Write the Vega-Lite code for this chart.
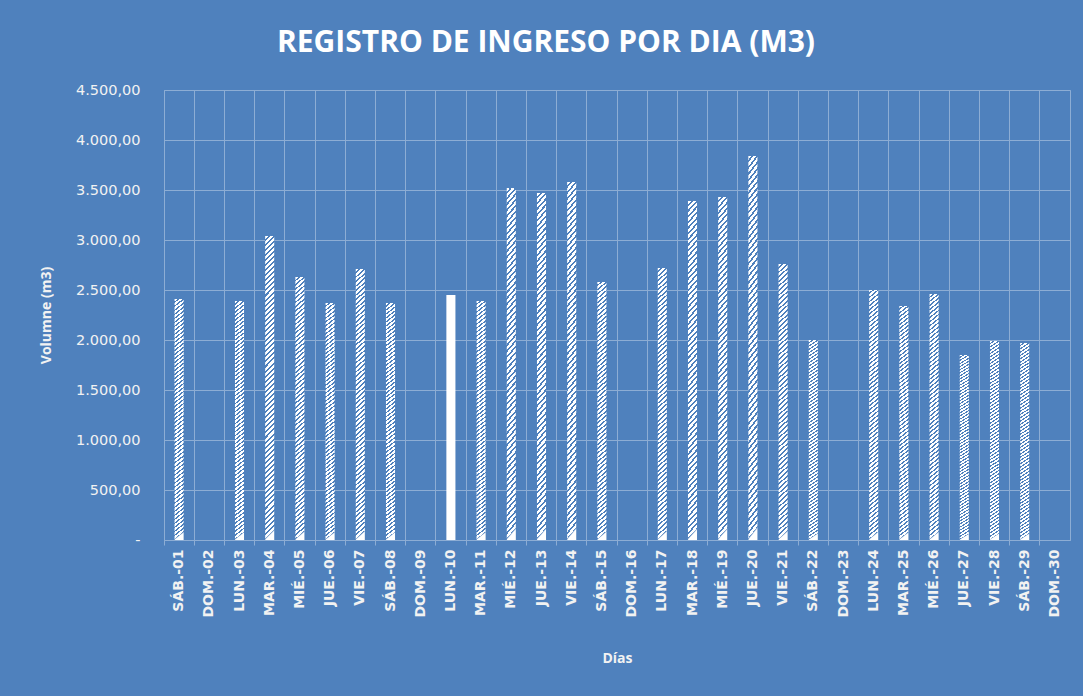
{
  "$schema": "https://vega.github.io/schema/vega-lite/v6.json",
  "autosize": {"type": "none"},
  "padding": {"left": 164, "top": 90, "right": 13, "bottom": 156},
  "width": 906,
  "height": 450,
  "background": "#4F81BD",
  "config": {
    "view": {"stroke": "#8DADD4", "strokeWidth": 1},
    "font": "Open Sans"
  },
  "title": {
    "text": "REGISTRO DE INGRESO POR DIA (M3)",
    "font": "Open Sans",
    "fontSize": 30,
    "fontWeight": "bold",
    "color": "#FFFFFF",
    "anchor": "middle",
    "frame": "group",
    "dx": -71,
    "offset": 24
  },
  "data": {
    "values": [
      {"dia": "SÁB.-01", "volumen": 2410},
      {"dia": "DOM.-02", "volumen": 0},
      {"dia": "LUN.-03", "volumen": 2390},
      {"dia": "MAR.-04", "volumen": 3040},
      {"dia": "MIÉ.-05", "volumen": 2630},
      {"dia": "JUE.-06", "volumen": 2370},
      {"dia": "VIE.-07", "volumen": 2710},
      {"dia": "SÁB.-08", "volumen": 2370},
      {"dia": "DOM.-09", "volumen": 0},
      {"dia": "LUN.-10", "volumen": 2450},
      {"dia": "MAR.-11", "volumen": 2390},
      {"dia": "MIÉ.-12", "volumen": 3520},
      {"dia": "JUE.-13", "volumen": 3470},
      {"dia": "VIE.-14", "volumen": 3580},
      {"dia": "SÁB.-15", "volumen": 2580},
      {"dia": "DOM.-16", "volumen": 0},
      {"dia": "LUN.-17", "volumen": 2720},
      {"dia": "MAR.-18", "volumen": 3390},
      {"dia": "MIÉ.-19", "volumen": 3430},
      {"dia": "JUE.-20", "volumen": 3840},
      {"dia": "VIE.-21", "volumen": 2760},
      {"dia": "SÁB.-22", "volumen": 2000},
      {"dia": "DOM.-23", "volumen": 0},
      {"dia": "LUN.-24", "volumen": 2500},
      {"dia": "MAR.-25", "volumen": 2340},
      {"dia": "MIÉ.-26", "volumen": 2460},
      {"dia": "JUE.-27", "volumen": 1850},
      {"dia": "VIE.-28", "volumen": 1990},
      {"dia": "SÁB.-29", "volumen": 1970},
      {"dia": "DOM.-30", "volumen": 0}
    ]
  },
  "mark": {
    "type": "bar",
    "width": {"band": 0.3}
  },
  "encoding": {
    "x": {
      "field": "dia",
      "type": "nominal",
      "sort": null,
      "scale": {"paddingInner": 0, "paddingOuter": 0},
      "axis": {
        "title": "Días",
        "titleFont": "Open Sans",
        "titleFontSize": 14,
        "titleFontWeight": "bold",
        "titleColor": "#F2F2F2",
        "titlePadding": 34,
        "bandPosition": 0,
        "grid": true,
        "gridColor": "#8DADD4",
        "gridOpacity": 1,
        "ticks": true,
        "tickSize": 5,
        "tickColor": "#8DADD4",
        "domainColor": "#8DADD4",
        "labelAngle": 270,
        "labelAlign": "right",
        "labelBaseline": "middle",
        "labelFont": "DejaVu Sans",
        "labelFontSize": 14,
        "labelFontWeight": "bold",
        "labelColor": "#F2F2F2",
        "labelPadding": 4
      }
    },
    "y": {
      "field": "volumen",
      "type": "quantitative",
      "scale": {"domain": [0, 4500], "nice": false},
      "axis": {
        "title": "Volumne (m3)",
        "titleFont": "Open Sans",
        "titleFontSize": 14,
        "titleFontWeight": "bold",
        "titleColor": "#F2F2F2",
        "titlePadding": 22,
        "values": [0, 500, 1000, 1500, 2000, 2500, 3000, 3500, 4000, 4500],
        "labelExpr": "datum.value == 0 ? '-' : replace(replace(replace(format(datum.value, ',.2f'), ',', '_'), '.', ','), '_', '.')",
        "grid": true,
        "gridColor": "#8DADD4",
        "gridOpacity": 1,
        "domain": false,
        "ticks": false,
        "labelFont": "DejaVu Sans",
        "labelFontSize": 14.5,
        "labelColor": "#F2F2F2",
        "labelPadding": 24
      }
    },
    "fill": {
      "condition": {"test": "datum.dia === 'LUN.-10'", "value": "#FFFFFF"},
      "value": {
        "gradient": "linear",
        "x1": 0, "y1": 0, "x2": 0.03, "y2": 1,
        "stops": [
          {"offset": 0, "color": "#FFFFFF"}, {"offset": 0.01, "color": "#FFFFFF"}, {"offset": 0.01, "color": "#4F81BD"}, {"offset": 0.01667, "color": "#4F81BD"},
          {"offset": 0.01667, "color": "#FFFFFF"}, {"offset": 0.02667, "color": "#FFFFFF"}, {"offset": 0.02667, "color": "#4F81BD"}, {"offset": 0.03333, "color": "#4F81BD"},
          {"offset": 0.03333, "color": "#FFFFFF"}, {"offset": 0.04333, "color": "#FFFFFF"}, {"offset": 0.04333, "color": "#4F81BD"}, {"offset": 0.05, "color": "#4F81BD"},
          {"offset": 0.05, "color": "#FFFFFF"}, {"offset": 0.06, "color": "#FFFFFF"}, {"offset": 0.06, "color": "#4F81BD"}, {"offset": 0.06667, "color": "#4F81BD"},
          {"offset": 0.06667, "color": "#FFFFFF"}, {"offset": 0.07667, "color": "#FFFFFF"}, {"offset": 0.07667, "color": "#4F81BD"}, {"offset": 0.08333, "color": "#4F81BD"},
          {"offset": 0.08333, "color": "#FFFFFF"}, {"offset": 0.09333, "color": "#FFFFFF"}, {"offset": 0.09333, "color": "#4F81BD"}, {"offset": 0.1, "color": "#4F81BD"},
          {"offset": 0.1, "color": "#FFFFFF"}, {"offset": 0.11, "color": "#FFFFFF"}, {"offset": 0.11, "color": "#4F81BD"}, {"offset": 0.11667, "color": "#4F81BD"},
          {"offset": 0.11667, "color": "#FFFFFF"}, {"offset": 0.12667, "color": "#FFFFFF"}, {"offset": 0.12667, "color": "#4F81BD"}, {"offset": 0.13333, "color": "#4F81BD"},
          {"offset": 0.13333, "color": "#FFFFFF"}, {"offset": 0.14333, "color": "#FFFFFF"}, {"offset": 0.14333, "color": "#4F81BD"}, {"offset": 0.15, "color": "#4F81BD"},
          {"offset": 0.15, "color": "#FFFFFF"}, {"offset": 0.16, "color": "#FFFFFF"}, {"offset": 0.16, "color": "#4F81BD"}, {"offset": 0.16667, "color": "#4F81BD"},
          {"offset": 0.16667, "color": "#FFFFFF"}, {"offset": 0.17667, "color": "#FFFFFF"}, {"offset": 0.17667, "color": "#4F81BD"}, {"offset": 0.18333, "color": "#4F81BD"},
          {"offset": 0.18333, "color": "#FFFFFF"}, {"offset": 0.19333, "color": "#FFFFFF"}, {"offset": 0.19333, "color": "#4F81BD"}, {"offset": 0.2, "color": "#4F81BD"},
          {"offset": 0.2, "color": "#FFFFFF"}, {"offset": 0.21, "color": "#FFFFFF"}, {"offset": 0.21, "color": "#4F81BD"}, {"offset": 0.21667, "color": "#4F81BD"},
          {"offset": 0.21667, "color": "#FFFFFF"}, {"offset": 0.22667, "color": "#FFFFFF"}, {"offset": 0.22667, "color": "#4F81BD"}, {"offset": 0.23333, "color": "#4F81BD"},
          {"offset": 0.23333, "color": "#FFFFFF"}, {"offset": 0.24333, "color": "#FFFFFF"}, {"offset": 0.24333, "color": "#4F81BD"}, {"offset": 0.25, "color": "#4F81BD"},
          {"offset": 0.25, "color": "#FFFFFF"}, {"offset": 0.26, "color": "#FFFFFF"}, {"offset": 0.26, "color": "#4F81BD"}, {"offset": 0.26667, "color": "#4F81BD"},
          {"offset": 0.26667, "color": "#FFFFFF"}, {"offset": 0.27667, "color": "#FFFFFF"}, {"offset": 0.27667, "color": "#4F81BD"}, {"offset": 0.28333, "color": "#4F81BD"},
          {"offset": 0.28333, "color": "#FFFFFF"}, {"offset": 0.29333, "color": "#FFFFFF"}, {"offset": 0.29333, "color": "#4F81BD"}, {"offset": 0.3, "color": "#4F81BD"},
          {"offset": 0.3, "color": "#FFFFFF"}, {"offset": 0.31, "color": "#FFFFFF"}, {"offset": 0.31, "color": "#4F81BD"}, {"offset": 0.31667, "color": "#4F81BD"},
          {"offset": 0.31667, "color": "#FFFFFF"}, {"offset": 0.32667, "color": "#FFFFFF"}, {"offset": 0.32667, "color": "#4F81BD"}, {"offset": 0.33333, "color": "#4F81BD"},
          {"offset": 0.33333, "color": "#FFFFFF"}, {"offset": 0.34333, "color": "#FFFFFF"}, {"offset": 0.34333, "color": "#4F81BD"}, {"offset": 0.35, "color": "#4F81BD"},
          {"offset": 0.35, "color": "#FFFFFF"}, {"offset": 0.36, "color": "#FFFFFF"}, {"offset": 0.36, "color": "#4F81BD"}, {"offset": 0.36667, "color": "#4F81BD"},
          {"offset": 0.36667, "color": "#FFFFFF"}, {"offset": 0.37667, "color": "#FFFFFF"}, {"offset": 0.37667, "color": "#4F81BD"}, {"offset": 0.38333, "color": "#4F81BD"},
          {"offset": 0.38333, "color": "#FFFFFF"}, {"offset": 0.39333, "color": "#FFFFFF"}, {"offset": 0.39333, "color": "#4F81BD"}, {"offset": 0.4, "color": "#4F81BD"},
          {"offset": 0.4, "color": "#FFFFFF"}, {"offset": 0.41, "color": "#FFFFFF"}, {"offset": 0.41, "color": "#4F81BD"}, {"offset": 0.41667, "color": "#4F81BD"},
          {"offset": 0.41667, "color": "#FFFFFF"}, {"offset": 0.42667, "color": "#FFFFFF"}, {"offset": 0.42667, "color": "#4F81BD"}, {"offset": 0.43333, "color": "#4F81BD"},
          {"offset": 0.43333, "color": "#FFFFFF"}, {"offset": 0.44333, "color": "#FFFFFF"}, {"offset": 0.44333, "color": "#4F81BD"}, {"offset": 0.45, "color": "#4F81BD"},
          {"offset": 0.45, "color": "#FFFFFF"}, {"offset": 0.46, "color": "#FFFFFF"}, {"offset": 0.46, "color": "#4F81BD"}, {"offset": 0.46667, "color": "#4F81BD"},
          {"offset": 0.46667, "color": "#FFFFFF"}, {"offset": 0.47667, "color": "#FFFFFF"}, {"offset": 0.47667, "color": "#4F81BD"}, {"offset": 0.48333, "color": "#4F81BD"},
          {"offset": 0.48333, "color": "#FFFFFF"}, {"offset": 0.49333, "color": "#FFFFFF"}, {"offset": 0.49333, "color": "#4F81BD"}, {"offset": 0.5, "color": "#4F81BD"},
          {"offset": 0.5, "color": "#FFFFFF"}, {"offset": 0.51, "color": "#FFFFFF"}, {"offset": 0.51, "color": "#4F81BD"}, {"offset": 0.51667, "color": "#4F81BD"},
          {"offset": 0.51667, "color": "#FFFFFF"}, {"offset": 0.52667, "color": "#FFFFFF"}, {"offset": 0.52667, "color": "#4F81BD"}, {"offset": 0.53333, "color": "#4F81BD"},
          {"offset": 0.53333, "color": "#FFFFFF"}, {"offset": 0.54333, "color": "#FFFFFF"}, {"offset": 0.54333, "color": "#4F81BD"}, {"offset": 0.55, "color": "#4F81BD"},
          {"offset": 0.55, "color": "#FFFFFF"}, {"offset": 0.56, "color": "#FFFFFF"}, {"offset": 0.56, "color": "#4F81BD"}, {"offset": 0.56667, "color": "#4F81BD"},
          {"offset": 0.56667, "color": "#FFFFFF"}, {"offset": 0.57667, "color": "#FFFFFF"}, {"offset": 0.57667, "color": "#4F81BD"}, {"offset": 0.58333, "color": "#4F81BD"},
          {"offset": 0.58333, "color": "#FFFFFF"}, {"offset": 0.59333, "color": "#FFFFFF"}, {"offset": 0.59333, "color": "#4F81BD"}, {"offset": 0.6, "color": "#4F81BD"},
          {"offset": 0.6, "color": "#FFFFFF"}, {"offset": 0.61, "color": "#FFFFFF"}, {"offset": 0.61, "color": "#4F81BD"}, {"offset": 0.61667, "color": "#4F81BD"},
          {"offset": 0.61667, "color": "#FFFFFF"}, {"offset": 0.62667, "color": "#FFFFFF"}, {"offset": 0.62667, "color": "#4F81BD"}, {"offset": 0.63333, "color": "#4F81BD"},
          {"offset": 0.63333, "color": "#FFFFFF"}, {"offset": 0.64333, "color": "#FFFFFF"}, {"offset": 0.64333, "color": "#4F81BD"}, {"offset": 0.65, "color": "#4F81BD"},
          {"offset": 0.65, "color": "#FFFFFF"}, {"offset": 0.66, "color": "#FFFFFF"}, {"offset": 0.66, "color": "#4F81BD"}, {"offset": 0.66667, "color": "#4F81BD"},
          {"offset": 0.66667, "color": "#FFFFFF"}, {"offset": 0.67667, "color": "#FFFFFF"}, {"offset": 0.67667, "color": "#4F81BD"}, {"offset": 0.68333, "color": "#4F81BD"},
          {"offset": 0.68333, "color": "#FFFFFF"}, {"offset": 0.69333, "color": "#FFFFFF"}, {"offset": 0.69333, "color": "#4F81BD"}, {"offset": 0.7, "color": "#4F81BD"},
          {"offset": 0.7, "color": "#FFFFFF"}, {"offset": 0.71, "color": "#FFFFFF"}, {"offset": 0.71, "color": "#4F81BD"}, {"offset": 0.71667, "color": "#4F81BD"},
          {"offset": 0.71667, "color": "#FFFFFF"}, {"offset": 0.72667, "color": "#FFFFFF"}, {"offset": 0.72667, "color": "#4F81BD"}, {"offset": 0.73333, "color": "#4F81BD"},
          {"offset": 0.73333, "color": "#FFFFFF"}, {"offset": 0.74333, "color": "#FFFFFF"}, {"offset": 0.74333, "color": "#4F81BD"}, {"offset": 0.75, "color": "#4F81BD"},
          {"offset": 0.75, "color": "#FFFFFF"}, {"offset": 0.76, "color": "#FFFFFF"}, {"offset": 0.76, "color": "#4F81BD"}, {"offset": 0.76667, "color": "#4F81BD"},
          {"offset": 0.76667, "color": "#FFFFFF"}, {"offset": 0.77667, "color": "#FFFFFF"}, {"offset": 0.77667, "color": "#4F81BD"}, {"offset": 0.78333, "color": "#4F81BD"},
          {"offset": 0.78333, "color": "#FFFFFF"}, {"offset": 0.79333, "color": "#FFFFFF"}, {"offset": 0.79333, "color": "#4F81BD"}, {"offset": 0.8, "color": "#4F81BD"},
          {"offset": 0.8, "color": "#FFFFFF"}, {"offset": 0.81, "color": "#FFFFFF"}, {"offset": 0.81, "color": "#4F81BD"}, {"offset": 0.81667, "color": "#4F81BD"},
          {"offset": 0.81667, "color": "#FFFFFF"}, {"offset": 0.82667, "color": "#FFFFFF"}, {"offset": 0.82667, "color": "#4F81BD"}, {"offset": 0.83333, "color": "#4F81BD"},
          {"offset": 0.83333, "color": "#FFFFFF"}, {"offset": 0.84333, "color": "#FFFFFF"}, {"offset": 0.84333, "color": "#4F81BD"}, {"offset": 0.85, "color": "#4F81BD"},
          {"offset": 0.85, "color": "#FFFFFF"}, {"offset": 0.86, "color": "#FFFFFF"}, {"offset": 0.86, "color": "#4F81BD"}, {"offset": 0.86667, "color": "#4F81BD"},
          {"offset": 0.86667, "color": "#FFFFFF"}, {"offset": 0.87667, "color": "#FFFFFF"}, {"offset": 0.87667, "color": "#4F81BD"}, {"offset": 0.88333, "color": "#4F81BD"},
          {"offset": 0.88333, "color": "#FFFFFF"}, {"offset": 0.89333, "color": "#FFFFFF"}, {"offset": 0.89333, "color": "#4F81BD"}, {"offset": 0.9, "color": "#4F81BD"},
          {"offset": 0.9, "color": "#FFFFFF"}, {"offset": 0.91, "color": "#FFFFFF"}, {"offset": 0.91, "color": "#4F81BD"}, {"offset": 0.91667, "color": "#4F81BD"},
          {"offset": 0.91667, "color": "#FFFFFF"}, {"offset": 0.92667, "color": "#FFFFFF"}, {"offset": 0.92667, "color": "#4F81BD"}, {"offset": 0.93333, "color": "#4F81BD"},
          {"offset": 0.93333, "color": "#FFFFFF"}, {"offset": 0.94333, "color": "#FFFFFF"}, {"offset": 0.94333, "color": "#4F81BD"}, {"offset": 0.95, "color": "#4F81BD"},
          {"offset": 0.95, "color": "#FFFFFF"}, {"offset": 0.96, "color": "#FFFFFF"}, {"offset": 0.96, "color": "#4F81BD"}, {"offset": 0.96667, "color": "#4F81BD"},
          {"offset": 0.96667, "color": "#FFFFFF"}, {"offset": 0.97667, "color": "#FFFFFF"}, {"offset": 0.97667, "color": "#4F81BD"}, {"offset": 0.98333, "color": "#4F81BD"},
          {"offset": 0.98333, "color": "#FFFFFF"}, {"offset": 0.99333, "color": "#FFFFFF"}, {"offset": 0.99333, "color": "#4F81BD"}, {"offset": 1, "color": "#FFFFFF"}
        ]
      }
    }
  }
}
